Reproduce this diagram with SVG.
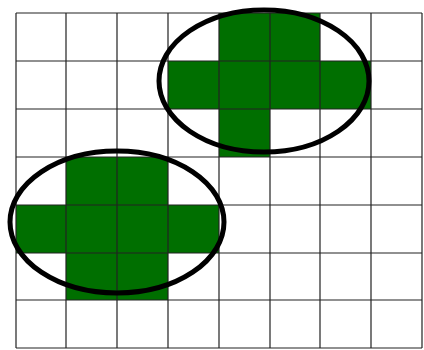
<svg xmlns="http://www.w3.org/2000/svg" width="424" height="350" viewBox="0 0 424 350">
<style>
.c{fill:#006f00}
.g{stroke:#222;stroke-width:1.2;fill:none}
.e{fill:none;stroke:#000;stroke-width:5}
</style>
<rect width="424" height="350" fill="#fff"/>
<g id="cells">
<rect class="c" x="219" y="13" width="101" height="48"/>
<rect class="c" x="168" y="61" width="203" height="48"/>
<rect class="c" x="219" y="109" width="51" height="48"/>
<rect class="c" x="66" y="157" width="102" height="48"/>
<rect class="c" x="16" y="205" width="203" height="48"/>
<rect class="c" x="66" y="253" width="102" height="47"/>
</g>
<g id="grid" class="g">
<path d="M16 13V348M66 13V348M117 13V348M168 13V348M219 13V348M270 13V348M320 13V348M371 13V348M422 13V348"/>
<path d="M16 13H422M16 61H422M16 109H422M16 157H422M16 205H422M16 253H422M16 300H422M16 348H422"/>
</g>
<g id="ellipse1"><ellipse class="e" cx="264" cy="81" rx="105" ry="71"/></g>
<g id="ellipse2"><ellipse class="e" cx="117" cy="222" rx="107" ry="71"/></g>
</svg>
